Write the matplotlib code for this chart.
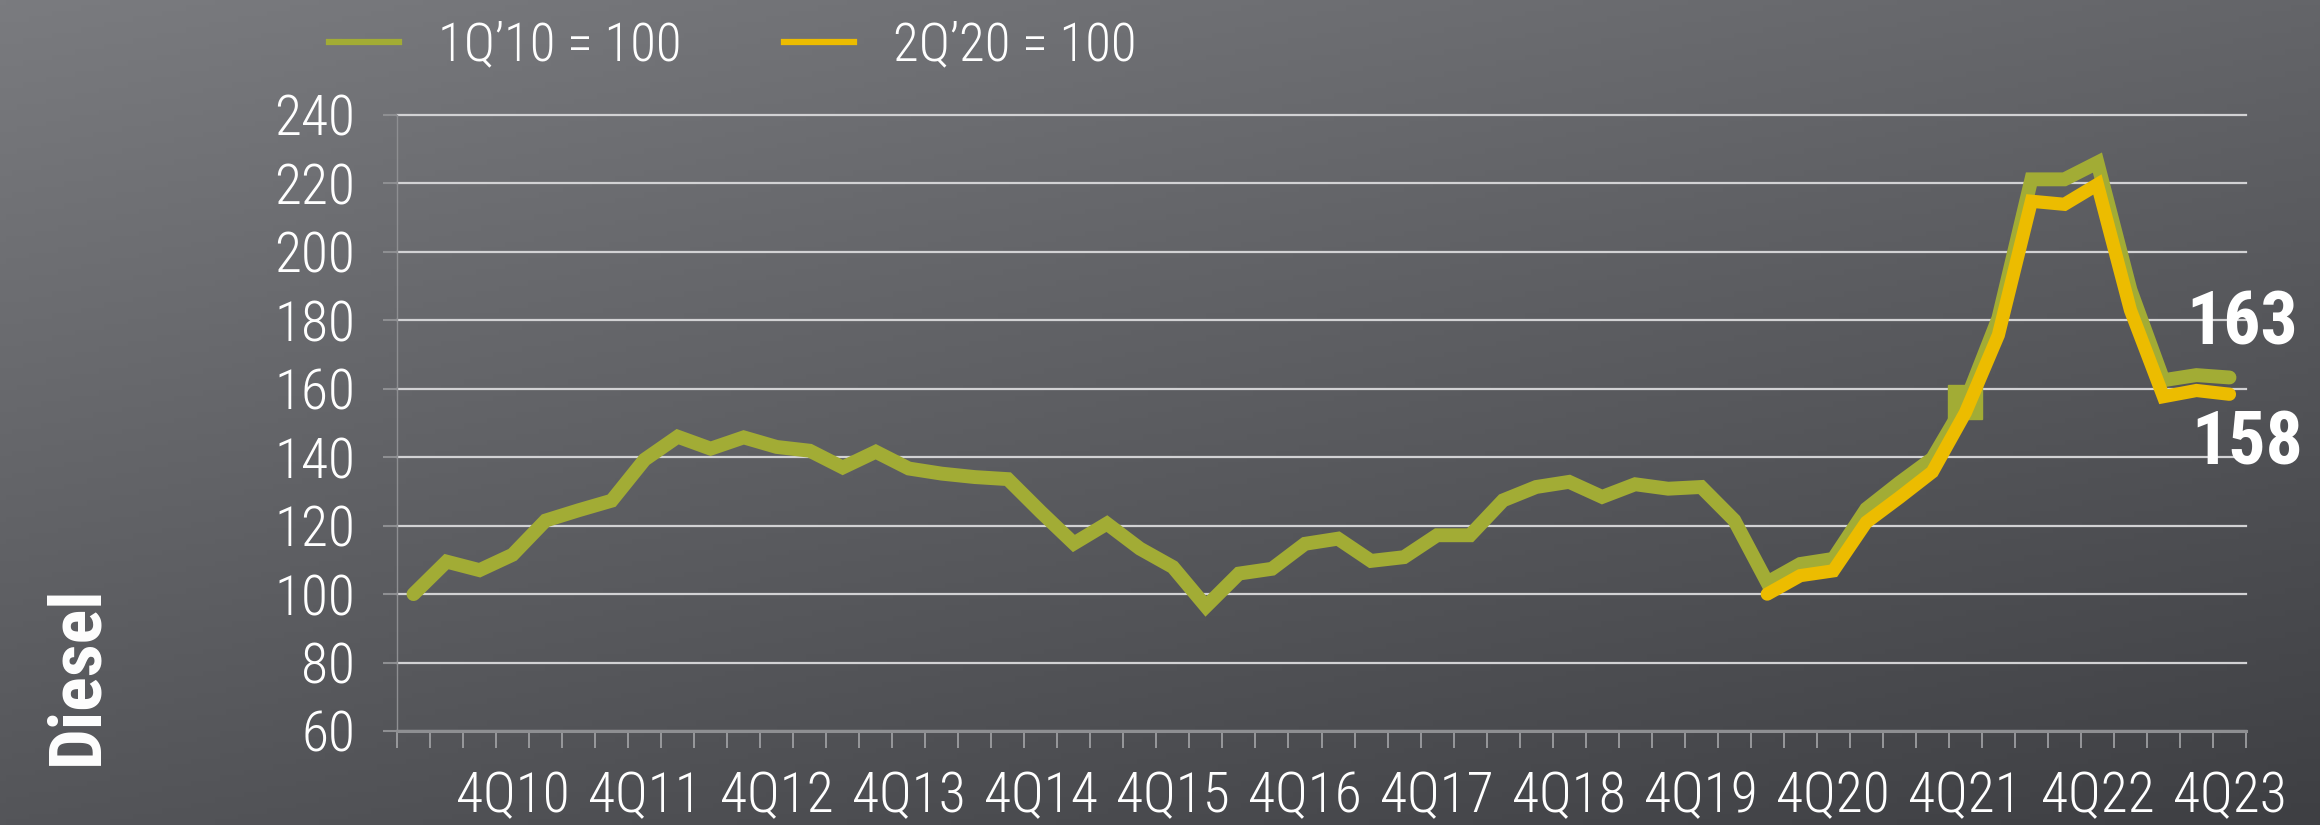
import numpy as np
import matplotlib
matplotlib.use("Agg")
import matplotlib.pyplot as plt
from matplotlib import font_manager
from matplotlib.lines import Line2D

# the slide uses a narrow font; take the first narrow family that is installed
installed = {f.name for f in font_manager.fontManager.ttflist}
FONT, SHRINK = 'Liberation Sans', 0.82
for name in ['Roboto Condensed', 'Liberation Sans Narrow', 'DejaVu Sans Condensed', 'Open Sans Condensed']:
    if name in installed:
        FONT, SHRINK = name, 1.0
        break
plt.rcParams['font.family'] = [FONT, 'DejaVu Sans']

# quarters 1Q10 .. 4Q23
quarters = [f"{q}Q{y:02d}" for y in range(10, 24) for q in range(1, 5)]
tick_labels = ["4Q10", "4Q11", "4Q12", "4Q13", "4Q14", "4Q15", "4Q16",
               "4Q17", "4Q18", "4Q19", "4Q20", "4Q21", "4Q22", "4Q23"]

# diesel index, 1Q'10 = 100
idx_2010 = [100, 109.5, 107, 111.5, 121.5, 124.5, 127.3, 139.3, 146, 142.5,
            145.8, 143, 141.9, 137, 141.6, 136.7, 135.2, 134.2, 133.6, 124,
            114.8, 120.6, 113.3, 107.9, 96.4, 106, 107.4, 114.7, 116.2, 109.7,
            110.8, 117.2, 117.2, 127.4, 131.3, 132.8, 128.4, 132.1, 130.8, 131.3,
            121.6, 103.4, 108.8, 110.3, 124.9, 132.5, 139.6, 156, 180.6, 221.2,
            221.2, 226.1, 188.9, 162.5, 164, 163.3]
# diesel index, 2Q'20 = 100 (starts at 2Q20)
start_2020 = "2Q20"
idx_2020 = [100, 105.4, 106.8, 121, 128.2, 135.7, 153, 175.7, 214.8, 213.9,
            219.7, 183, 157.7, 159.5, 158.4]

GREEN = "#a2ac35"
YELLOW = "#ecbc00"
GRID = "#d2d2d4"
AXIS = "#8e8f92"

fig = plt.figure(figsize=(23.2, 8.25), dpi=100)

# background gradient
bg = fig.add_axes([0, 0, 1, 1], zorder=-1)
gx, gy = np.meshgrid(np.linspace(0, 1, 400), np.linspace(0, 1, 150))
shade = 122 - 22 * gx - 38 * gy
rgb = np.dstack([shade, shade + 1, shade + 5]) / 255.0
bg.imshow(np.clip(rgb, 0, 1), aspect='auto', extent=[0, 1, 0, 1], origin='upper')
bg.axis('off')

ax = fig.add_axes([397 / 2320, 1 - 731 / 825, (2246 - 397) / 2320, (731 - 115) / 825])
ax.set_facecolor('none')

x = np.arange(len(quarters))
x2 = np.arange(quarters.index(start_2020), len(quarters))

ax.plot(x, idx_2010, color=GREEN, lw=10, solid_joinstyle='miter', solid_capstyle='round',
        marker='s', markevery=[quarters.index("4Q21")], markersize=24, zorder=3)
ax.plot(x2, idx_2020, color=YELLOW, lw=9.5, solid_joinstyle='miter', solid_capstyle='round',
        zorder=4)

ax.set_xlim(-0.5, len(quarters) - 0.5)
ax.set_ylim(60, 240)
ax.set_yticks(np.arange(60, 241, 20))
ax.set_xticks([quarters.index(t) for t in tick_labels])
ax.set_xticklabels(tick_labels)
ax.set_xticks(np.arange(-0.5, len(quarters), 1), minor=True)

ax.yaxis.grid(True, color=GRID, lw=1.6, zorder=1)
for gl in ax.get_ygridlines():
    gl.set_clip_on(False)
ax.set_axisbelow(True)

for s in ['top', 'right']:
    ax.spines[s].set_visible(False)
ax.spines['bottom'].set_color(AXIS)
ax.spines['bottom'].set_linewidth(2.2)
ax.spines['left'].set_color(AXIS)
ax.spines['left'].set_linewidth(1.0)

lab = 40 * SHRINK
ax.tick_params(axis='y', length=10, width=1.5, color=AXIS, labelcolor='white',
               labelsize=lab, pad=20)
ax.tick_params(axis='x', which='major', length=0, labelcolor='white', labelsize=lab, pad=28)
ax.tick_params(axis='x', which='minor', length=12, width=1.2, color='#a4a5a8')
for t in ax.get_xticklabels() + ax.get_yticklabels():
    t.set_fontweight('light')

# end-of-line values
ax.text(53.7, 178.8, f"{idx_2010[-1]:.0f}", color='white', fontsize=53 * SHRINK,
        fontweight='bold', ha='left', va='center', clip_on=False)
ax.text(53.85, 143.7, f"{idx_2020[-1]:.0f}", color='white', fontsize=53 * SHRINK,
        fontweight='bold', ha='left', va='center', clip_on=False)

fig.text(78 / 2320, 1 - 675 / 825, "Diesel", rotation=90, color='white',
         fontsize=52 * SHRINK, fontweight='bold', ha='center', va='center')

handles = [Line2D([], [], color=GREEN, lw=4.5),
           Line2D([], [], color=YELLOW, lw=4.5)]
leg = fig.legend(handles, ["1Q’10 = 100", "2Q’20 = 100"], loc='center left',
                 bbox_to_anchor=(329 / 2320, 1 - 46 / 825), bbox_transform=fig.transFigure,
                 ncol=2, frameon=False, fontsize=38 * SHRINK, handlelength=1.33 / SHRINK,
                 handletextpad=0.74 / SHRINK, columnspacing=1.93 / SHRINK,
                 borderpad=0, borderaxespad=0)
for t in leg.get_texts():
    t.set_color('white')
    t.set_fontweight('light')

fig.savefig("out.png", dpi=100)
